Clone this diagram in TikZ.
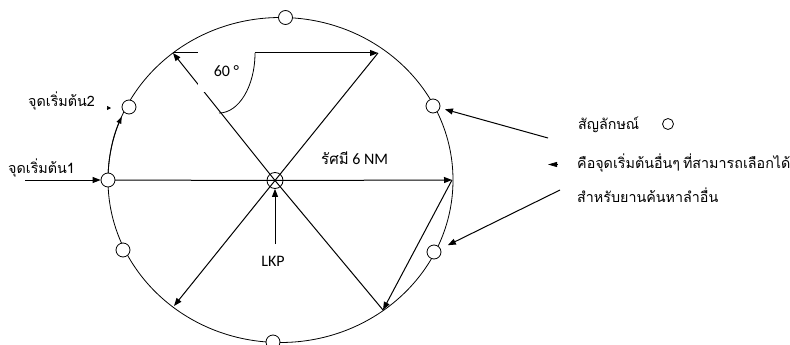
\documentclass[tikz,border=0pt]{standalone}
\usepackage{fontspec}
\setmainfont{Carlito}
\newfontfamily\thaifont[Script=Thai,WordSpace={0.6}]{Loma}
\usetikzlibrary{arrows.meta}
\begin{document}
\begin{tikzpicture}[x=1pt,y=-1pt,
  line/.style={draw=black, line width=1pt},
  arr/.style={line, -{Triangle[length=8pt,width=6pt]}},
  spot/.style={circle, draw=black, line width=0.8pt, fill=white, minimum size=14pt, inner sep=0pt},
  thaitext/.style={font=\thaifont\fontsize{14.3}{18}\selectfont, text=black, inner sep=0pt},
  lat/.style={font=\fontsize{16}{19}\selectfont, text=black, inner sep=0pt},
]
\useasboundingbox (0,0) rectangle (790,345);
% outer circle
\draw[line width=0.8pt] (280.5,180) ellipse [x radius=172.5pt, y radius=162.5pt];
% points of the pattern
\node[circle, draw=black, line width=0.8pt, minimum size=16pt, inner sep=0pt] (lkp) at (275,180.5) {};
\coordinate (ul) at (173,53);
\coordinate (ur) at (378,53);
\coordinate (rt) at (452,180);
\coordinate (lr) at (383,310);
\coordinate (ll) at (174,306);
\coordinate (cl0) at (108,180);
% legs
\draw[arr] (lkp.center) -- (ul);
\draw[arr] (ul) -- (ur);
\draw[line] (ur) -- (lkp.center);
\draw[line] (cl0) -- (lkp.center);
\draw[arr] (lkp.center) -- (rt);
\draw[arr] (rt) -- (lr);
\draw[line] (lr) -- (lkp.center);
\draw[arr] (lkp.center) -- (ll);
% angle label and arc
\node[lat, fill=white, minimum width=57pt, minimum height=42pt] (ang) at (226.5,71) {60 °};
\draw[line width=0.8pt] (255,53) arc[start angle=0, end angle=-90, x radius=36pt, y radius=60pt];
% arc arrow from start point 1 to start point 2
\draw[line width=0.8pt, -{Triangle[length=7pt,width=5pt]}] (cl0) arc[start angle=180, end angle=157, x radius=172.5pt, y radius=162.5pt];
% small circles (alternative start points)
\node[spot] (ctop) at (285.5,17.5) {};
\node[spot] (cul) at (129,107) {};
\node[spot] (cur) at (433,106) {};
\node[spot] (cl) at (cl0) {};
\node[spot] (cll) at (123,250) {};
\node[spot] (clr) at (434,252) {};
\node[spot] (cbot) at (273,342) {};
% left labels
\node[thaitext, anchor=west] (s2) at (28,101) {จุดเริ่มต้น2};
\node[thaitext, anchor=west] (s1) at (8,168) {จุดเริ่มต้น1};
\coordinate (s1a) at (25,180);
\draw[arr] (s1a) -- (cl);
\coordinate (t1) at (106.5,108);
\coordinate (t2) at (111,108);
\draw[line width=0.6pt, -{Triangle[length=4pt,width=4pt]}] (t1) -- (t2);
% radius label
\node[lat, anchor=west] (rad) at (321,158) {{\thaifont\fontsize{15}{18}\selectfont รัศมี} 6 NM};
% LKP label
\node[lat] (lkplab) at (273,261) {LKP};
\coordinate (lkpa) at (275,244);
\draw[arr] (lkpa) -- (lkp.south);
% legend
\node[thaitext, anchor=west] (leg1) at (578,125) {สัญลักษณ์};
\node[circle, draw=black, line width=0.8pt, minimum size=11pt, inner sep=0pt] (legsym) at (668,124) {};
\node[thaitext, anchor=west] (leg2) at (577,163) {คือจุดเริ่มต้นอื่นๆ ที่สามารถเลือกได้};
\node[thaitext, anchor=west] (leg3) at (577,195) {สำหรับยานค้นหาลำอื่น};
\coordinate (a1) at (548,138);
\draw[arr, shorten >=5pt] (a1) -- (cur);
\coordinate (a2) at (560,190);
\draw[arr, shorten >=8pt] (a2) -- (clr);
\coordinate (a3s) at (558,164.5);
\coordinate (a3e) at (548,164.5);
\draw[line width=0.8pt, -{Triangle[length=9pt,width=5pt]}] (a3s) -- (a3e);
\end{tikzpicture}
\end{document}
